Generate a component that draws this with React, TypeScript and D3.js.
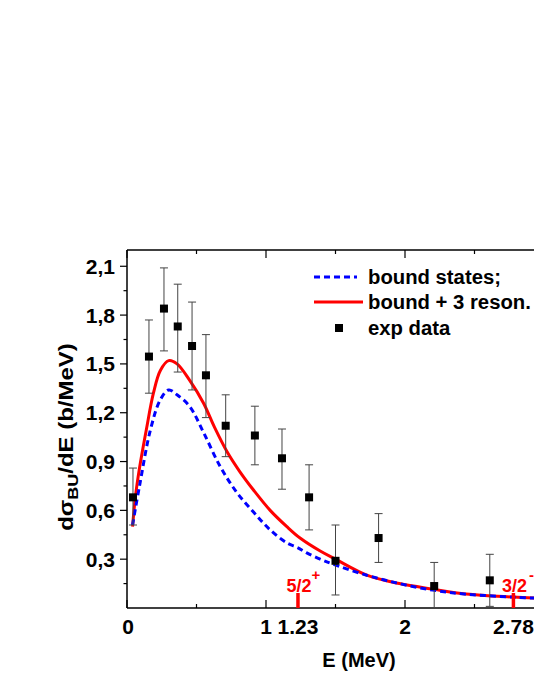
import React from "react";
import * as d3 from "d3";

const expE = [0.043, 0.158, 0.266, 0.365, 0.468, 0.568, 0.71, 0.92, 1.115, 1.31, 1.5, 1.81, 2.21, 2.61];
const expY = [0.68, 1.545, 1.84, 1.73, 1.61, 1.43, 1.12, 1.06, 0.92, 0.68, 0.29, 0.43, 0.135, 0.17];
const expLo = [0.51, 1.32, 1.58, 1.45, 1.34, 1.17, 0.93, 0.88, 0.73, 0.48, 0.08, 0.28, 0.0, 0.01];
const expHi = [0.86, 1.77, 2.09, 1.99, 1.88, 1.68, 1.31, 1.24, 1.1, 0.88, 0.51, 0.58, 0.28, 0.33];

const redE = [0.04, 0.06, 0.09, 0.14, 0.19, 0.24, 0.3, 0.36, 0.45, 0.55, 0.63, 0.72, 0.81, 0.91, 1.03, 1.15, 1.245, 1.39, 1.5, 1.73, 1.96, 2.2, 2.44, 2.78, 3.0];
const redY = [0.5, 0.68, 0.86, 1.1, 1.32, 1.46, 1.52, 1.5, 1.4, 1.26, 1.11, 0.96, 0.84, 0.725, 0.6, 0.5, 0.43, 0.35, 0.3, 0.2, 0.15, 0.116, 0.086, 0.067, 0.058];

const blueE = [0.04, 0.09, 0.17, 0.24, 0.3, 0.36, 0.45, 0.55, 0.67, 0.79, 0.91, 1.03, 1.15, 1.23, 1.29, 1.39, 1.48, 1.73, 1.96, 2.2, 2.44, 2.78, 3.0];
const blueY = [0.51, 0.75, 1.1, 1.28, 1.34, 1.31, 1.24, 1.08, 0.87, 0.71, 0.59, 0.48, 0.4, 0.37, 0.34, 0.3, 0.27, 0.2, 0.15, 0.11, 0.085, 0.067, 0.058];

const xMajor = [0, 1, 2];
const xMinor = [0.5, 1.5, 2.5];
const xLabels = [0, 1, 1.23, 2, 2.78];
const yMajor = [0.3, 0.6, 0.9, 1.2, 1.5, 1.8, 2.1];
const yMinor = [0.15, 0.45, 0.75, 1.05, 1.35, 1.65, 1.95];
const yLabels = ["0,3", "0,6", "0,9", "1,2", "1,5", "1,8", "2,1"];
const resE = [1.23, 2.78];
const resLabel = ["5/2", "3/2"];
const resSup = ["+", "-"];
const legendNames = ["bound states;", "bound + 3 reson.", "exp data"];

const W = 534, H = 691;
const L = 127, T = 250, B = 608;
const x = d3.scaleLinear().domain([0, 3]).range([L, L + 417]);
const y = d3.scaleLinear().domain([0, 2.2]).range([B, T]);
const font = "'Liberation Sans', Arial, sans-serif";

export default function App() {
  const line = d3.line<[number, number]>().x(d => x(d[0])).y(d => y(d[1])).curve(d3.curveCatmullRom.alpha(0.5));
  const redPath = line(redE.map((e, i) => [e, redY[i]]))!;
  const bluePath = line(blueE.map((e, i) => [e, blueY[i]]))!;
  return (
    <svg width={W} height={H} style={{ position: "absolute", left: 0, top: 0, background: "#fff" }} fontFamily={font} fontWeight="bold">
      <defs>
        <clipPath id="plot"><rect x={L} y={T} width={W - L} height={B - T} /></clipPath>
      </defs>
      <line x1={L} y1={T} x2={W} y2={T} stroke="#000" strokeWidth={1.5} />
      <line x1={L} y1={B} x2={W} y2={B} stroke="#000" strokeWidth={1.5} />
      <line x1={L} y1={T} x2={L} y2={B} stroke="#000" strokeWidth={1.5} />
      {xMajor.map(v => (
        <g key={"xM" + v}>
          <line x1={x(v)} x2={x(v)} y1={B} y2={B - 8} stroke="#000" strokeWidth={1.2} />
          <line x1={x(v)} x2={x(v)} y1={T} y2={T + 8} stroke="#000" strokeWidth={1.2} />
        </g>
      ))}
      {xMinor.map(v => (
        <g key={"xm" + v}>
          <line x1={x(v)} x2={x(v)} y1={B} y2={B - 4} stroke="#000" strokeWidth={1.2} />
          <line x1={x(v)} x2={x(v)} y1={T} y2={T + 4} stroke="#000" strokeWidth={1.2} />
        </g>
      ))}
      {xLabels.map(v => (
        <text key={"xl" + v} x={x(v) + (v === 0 ? 1 : 0)} y={634} fontSize={21} textAnchor="middle">{String(v)}</text>
      ))}
      {yMajor.map(v => (
        <line key={"yM" + v} x1={L - 7} x2={L} y1={y(v)} y2={y(v)} stroke="#000" strokeWidth={1.2} />
      ))}
      {yMinor.map(v => (
        <line key={"ym" + v} x1={L - 3.5} x2={L} y1={y(v)} y2={y(v)} stroke="#000" strokeWidth={1.2} />
      ))}
      {yMajor.map((v, i) => (
        <text key={"yl" + v} x={115} y={y(v) + 7.5} fontSize={21} textAnchor="end">{yLabels[i]}</text>
      ))}
      <text x={359} y={667} fontSize={20} textAnchor="middle">E (MeV)</text>
      <g transform={`translate(73,437) rotate(-90) scale(1.2,1)`}>
        <text x={0} y={0} fontSize={20} textAnchor="middle">
          dσ<tspan fontSize={15} dy={5}>BU</tspan><tspan dy={-5}>/dE (b/MeV)</tspan>
        </text>
      </g>
      <g clipPath="url(#plot)">
        <path d={redPath} fill="none" stroke="#ff0000" strokeWidth={3} />
        <path d={bluePath} fill="none" stroke="#0000ff" strokeWidth={3} strokeDasharray="6,4" />
      </g>
      {expE.map((e, i) => (
        <g key={"p" + i}>
          <line x1={x(e)} x2={x(e)} y1={y(expLo[i])} y2={y(expHi[i])} stroke="#444" strokeWidth={1} />
          <line x1={x(e) - 4} x2={x(e) + 4} y1={y(expLo[i])} y2={y(expLo[i])} stroke="#444" strokeWidth={1} />
          <line x1={x(e) - 4} x2={x(e) + 4} y1={y(expHi[i])} y2={y(expHi[i])} stroke="#444" strokeWidth={1} />
          <rect x={x(e) - 4} y={y(expY[i]) - 4} width={8} height={8} fill="#000" />
        </g>
      ))}
      {resE.map((e, i) => (
        <g key={"r" + i}>
          <line x1={x(e)} x2={x(e)} y1={B} y2={B - 15} stroke="#ff0000" strokeWidth={3.5} />
          <text x={x(e) + 1} y={592} fontSize={18} fill="#ff0000" textAnchor="middle">{resLabel[i]}</text>
          <text x={x(e) + 18} y={580} fontSize={15} fill="#ff0000" textAnchor="middle">{resSup[i]}</text>
        </g>
      ))}
      <line x1={314} x2={357} y1={277} y2={277} stroke="#0000ff" strokeWidth={3} strokeDasharray="6,4" />
      <text x={368} y={284} fontSize={20.3}>{legendNames[0]}</text>
      <line x1={314} x2={363} y1={302} y2={302} stroke="#ff0000" strokeWidth={3} />
      <text x={368} y={309} fontSize={20.3}>{legendNames[1]}</text>
      <rect x={335} y={324} width={8} height={8} fill="#000" />
      <text x={368} y={335} fontSize={20.3}>{legendNames[2]}</text>
    </svg>
  );
}
